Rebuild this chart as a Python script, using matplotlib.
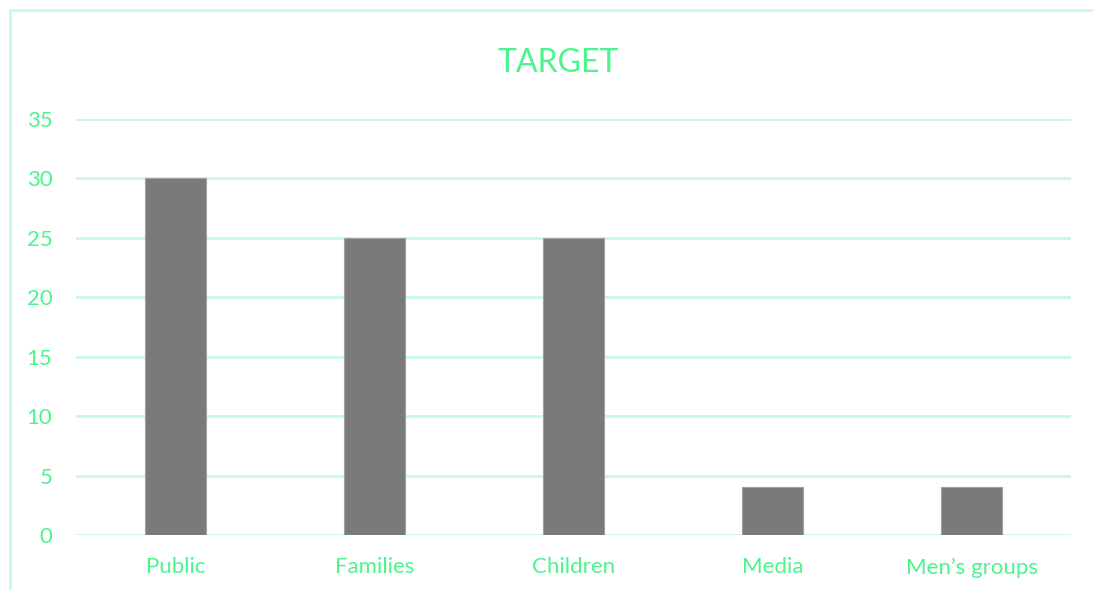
import matplotlib.pyplot as plt
from matplotlib.patches import Rectangle

## data
categories = ['Public', 'Families', 'Children', 'Media', 'Men\u2019s groups']
values = [30, 25, 25, 4, 4]
yticks = [0, 5, 10, 15, 20, 25, 30, 35]

textColor = '#4cf58c'
gridColor = '#c8fadf'
barColor = '#7a7a7a'

plt.rcParams['font.family'] = ['Lato', 'DejaVu Sans']

fig = plt.figure(figsize=(10.93, 5.9), dpi=100)
ax = fig.add_axes([76/1093, 1 - 535/590, 995/1093, 416/590])

# outer frame of the chart
fig.patches.append(Rectangle((10/1093, -0.05), 1.2, 1 - 10/590 + 0.05,
                             transform=fig.transFigure, fill=False,
                             edgecolor=gridColor, linewidth=2))

ax.bar(range(len(categories)), values, width=0.31, color=barColor,
       edgecolor='#a0a0a0', linewidth=0.8, zorder=3)

ax.set_xlim(-0.5, len(categories) - 0.5)
ax.set_ylim(0, 35)
ax.set_yticks(yticks)
ax.set_xticks(range(len(categories)))
ax.set_xticklabels(categories)
ax.yaxis.grid(True, color=gridColor, linewidth=2, zorder=0)
ax.set_axisbelow(True)
for s in ax.spines.values():
    s.set_visible(False)
ax.tick_params(length=0, colors=textColor, labelsize=16)
ax.tick_params(axis='x', pad=16)
ax.tick_params(axis='y', pad=17)

fig.text(558/1093, 1 - 63/590, 'TARGET', ha='center', va='center',
         color=textColor, fontsize=23)

plt.savefig('out.png', dpi=100)
